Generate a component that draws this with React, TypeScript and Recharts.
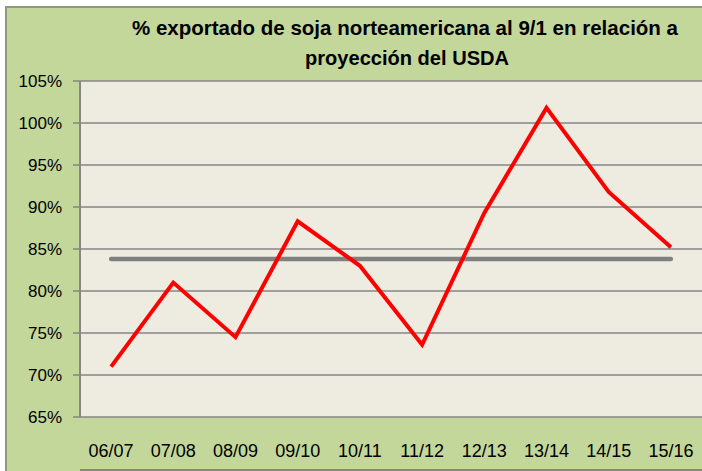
// Soy export share vs USDA projection, by season
import { LineChart, Line, XAxis, YAxis, CartesianGrid } from 'recharts';

const seasons = ['06/07', '07/08', '08/09', '09/10', '10/11', '11/12', '12/13', '13/14', '14/15', '15/16'];
const exportedPct = [71.0, 81.0, 74.5, 88.3, 83.0, 73.6, 89.3, 101.8, 91.8, 85.2];
const averagePct = [83.8, 83.8, 83.8, 83.8, 83.8, 83.8, 83.8, 83.8, 83.8, 83.8];
const yTicks = [65, 70, 75, 80, 85, 90, 95, 100, 105];
const boundaryTicks = [0, 1, 2, 3, 4, 5, 6, 7, 8, 9, 10];
const titleLines = ['% exportado de soja norteamericana al 9/1 en relación a', 'proyección  del USDA'];

const rows = seasons.map((s, i) => ({ season: s, pct: exportedPct[i], avg: averagePct[i] }));

const FONT = "'Liberation Sans', Arial, sans-serif";
const GRID = '#868686';

export default function App() {
  return (
    <div style={{ position: 'absolute', left: 0, top: 0, width: 702, height: 471, overflow: 'hidden', background: '#fff' }}>
      <div
        style={{
          position: 'absolute', left: 5, top: 6, width: 720, height: 500,
          background: '#C4D79B', border: '2px solid #8E9B7E', boxSizing: 'border-box',
        }}
      />
      <div style={{ position: 'absolute', left: 0, top: 0 }}>
        <LineChart width={702} height={471} data={rows} margin={{ top: 81, right: 0, bottom: 0, left: 0 }}>
          <CartesianGrid vertical={false} stroke={GRID} strokeWidth={1.5} fill="#EEECE1" fillOpacity={1} />
          <XAxis
            xAxisId="tk"
            type="number"
            domain={[0, 10]}
            ticks={boundaryTicks}
            allowDataOverflow
            height={1}
            tick={false}
            tickSize={6}
            tickLine={{ stroke: GRID, strokeWidth: 1.5 }}
            axisLine={{ stroke: GRID, strokeWidth: 2 }}
          />
          <XAxis
            xAxisId="cat"
            dataKey="season"
            scale="band"
            height={53}
            interval={0}
            axisLine={false}
            tickLine={false}
            tickSize={0}
            tickMargin={27}
            tick={{ fill: '#000', fontSize: 18, fontFamily: FONT }}
          />
          <YAxis
            width={80}
            domain={[65, 105]}
            ticks={yTicks}
            interval={0}
            tickFormatter={(v: number) => `${v}%`}
            tickSize={7}
            tickMargin={11}
            tickLine={{ stroke: GRID, strokeWidth: 1.5 }}
            axisLine={{ stroke: GRID, strokeWidth: 2 }}
            tick={{ fill: '#000', fontSize: 17, fontFamily: FONT }}
          />
          <Line
            xAxisId="cat"
            dataKey="avg"
            stroke="#808080"
            strokeWidth={4.5}
            strokeLinecap="round"
            dot={false}
            activeDot={false}
            isAnimationActive={false}
          />
          <Line
            xAxisId="cat"
            dataKey="pct"
            stroke="#FF0000"
            strokeWidth={4}
            strokeLinejoin="miter"
            dot={false}
            activeDot={false}
            isAnimationActive={false}
          />
        </LineChart>
      </div>
      <svg width={702} height={80} style={{ position: 'absolute', left: 0, top: 0, pointerEvents: 'none' }}>
        <text x={132} y={35} fontFamily={FONT} fontWeight="bold" fontSize={21} fill="#000"
          textLength={546} lengthAdjust="spacingAndGlyphs">
          {titleLines[0]}
        </text>
        <text x={305} y={65} fontFamily={FONT} fontWeight="bold" fontSize={21} fill="#000"
          textLength={204} lengthAdjust="spacingAndGlyphs">
          {titleLines[1]}
        </text>
      </svg>
    </div>
  );
}
